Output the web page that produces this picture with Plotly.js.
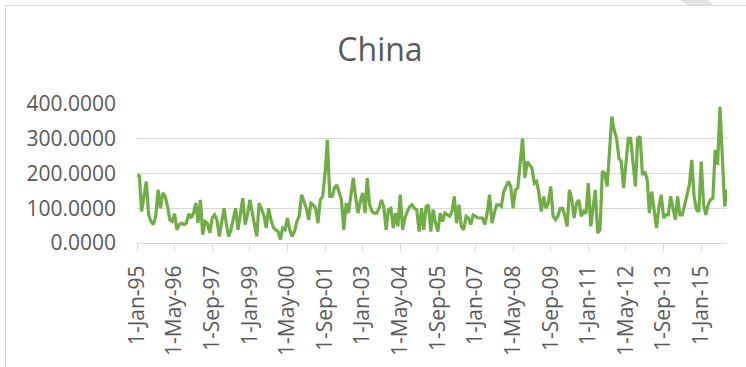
<!DOCTYPE html>
<html>
<head>
<meta charset="utf-8">
<script src="https://cdn.plot.ly/plotly-3.0.1.min.js"></script>
<style>
  html, body { margin: 0; padding: 0; background: #ffffff; }
  #chart { width: 746px; height: 367px; }
</style>
</head>
<body>
<div id="chart"></div>
<script>
// Monthly series, January 1995 onwards (one value per month)
const startYear = 1995;
const startMonth = 0; // January
const chinaValues = [
  196, 193, 91, 130, 177, 81, 62, 53, 77, 153,
  100, 144, 134, 105, 67, 62, 84, 38, 53, 57,
  53, 57, 84, 72, 86, 115, 57, 124, 24, 62,
  57, 29, 72, 81, 67, 19, 62, 100, 57, 19,
  38, 67, 100, 38, 84, 129, 53, 81, 124, 85,
  57, 19, 115, 100, 80, 43, 100, 67, 45, 38,
  33, 10, 43, 38, 72, 38, 19, 33, 62, 77,
  139, 120, 100, 67, 115, 110, 100, 57, 124, 135,
  200, 297, 134, 134, 158, 167, 144, 124, 38, 115,
  86, 140, 187, 134, 86, 120, 144, 86, 187, 110,
  91, 86, 86, 100, 124, 105, 38, 96, 100, 43,
  86, 48, 139, 38, 72, 91, 105, 110, 100, 96,
  33, 100, 38, 105, 110, 33, 96, 57, 33, 86,
  62, 86, 81, 77, 90, 134, 57, 110, 48, 38,
  77, 72, 53, 81, 77, 72, 72, 72, 53, 86,
  139, 57, 86, 110, 110, 105, 148, 163, 177, 163,
  100, 153, 158, 230, 301, 187, 234, 225, 215, 172,
  177, 144, 91, 134, 100, 115, 163, 77, 67, 77,
  100, 100, 81, 48, 153, 124, 72, 115, 124, 77,
  91, 85, 172, 48, 96, 153, 29, 38, 206, 201,
  163, 250, 364, 325, 301, 244, 234, 158, 239, 301,
  301, 234, 163, 301, 306, 196, 206, 182, 86, 148,
  91, 43, 100, 139, 72, 81, 81, 134, 100, 67,
  134, 81, 81, 110, 134, 167, 239, 134, 96, 90,
  234, 110, 81, 110, 124, 129, 268, 225, 392, 250,
  105, 153
];

// Category axis labels, one every 16 months
const tickLabels = [
  '1-Jan-95', '1-May-96', '1-Sep-97', '1-Jan-99', '1-May-00', '1-Sep-01',
  '1-Jan-03', '1-May-04', '1-Sep-05', '1-Jan-07', '1-May-08', '1-Sep-09',
  '1-Jan-11', '1-May-12', '1-Sep-13', '1-Jan-15'
];
const tickStepMonths = 16;

const yTicks = [0, 100, 200, 300, 400];

function monthDate(offset) {
  const y = startYear + Math.floor((startMonth + offset) / 12);
  const m = (startMonth + offset) % 12;
  return y + '-' + String(m + 1).padStart(2, '0') + '-01';
}

const dates = chinaValues.map((_, i) => monthDate(i));
const tickVals = tickLabels.map((_, i) => monthDate(i * tickStepMonths));

const textColor = '#595959';
const gridColor = '#d9d9d9';
const fontFamily = '"Open Sans", "Liberation Sans", sans-serif';

const W = 746, H = 367;
const margin = { l: 137, r: 19, t: 104, b: 124 };

// Helpers to place the chart-area frame in paper units from pixel positions
const pw = W - margin.l - margin.r;
const ph = H - margin.t - margin.b;
const px = v => (v - margin.l) / pw;
const py = v => (H - margin.b - v) / ph;
const pt = (x, y) => px(x) + ' ' + py(y);

const trace = {
  type: 'scatter',
  mode: 'lines',
  x: dates,
  y: chinaValues,
  line: { color: '#70ad47', width: 3.2, shape: 'linear' },
  hoverinfo: 'x+y'
};

const layout = {
  width: W,
  height: H,
  margin: margin,
  paper_bgcolor: '#ffffff',
  plot_bgcolor: '#ffffff',
  showlegend: false,
  font: { family: fontFamily, color: textColor, size: 21 },
  title: {
    text: 'China',
    font: { family: fontFamily, size: 32, color: textColor },
    xref: 'container', x: 380 / W, xanchor: 'center',
    yref: 'container', y: 1 - 50 / H, yanchor: 'middle'
  },
  xaxis: {
    type: 'date',
    range: [dates[0], dates[dates.length - 1]],
    tickmode: 'array',
    tickvals: tickVals,
    ticktext: tickLabels,
    tickangle: -90,
    ticks: 'outside',
    ticklen: 7,
    tickwidth: 1,
    tickcolor: gridColor,
    ticklabelstandoff: 6,
    showgrid: false,
    showline: true,
    linecolor: gridColor,
    linewidth: 1,
    zeroline: false,
    tickfont: { family: fontFamily, size: 21, color: textColor },
    fixedrange: true
  },
  yaxis: {
    range: [0, 400],
    tickmode: 'array',
    tickvals: yTicks,
    tickformat: '.4f',
    ticks: '',
    ticklabelstandoff: 20,
    showgrid: true,
    gridcolor: gridColor,
    gridwidth: 1.3,
    showline: false,
    zeroline: false,
    tickfont: { family: fontFamily, size: 21, color: textColor },
    fixedrange: true
  },
  shapes: [
    {
      // chart-area border (left and top edges)
      type: 'path',
      xref: 'paper', yref: 'paper',
      path: 'M ' + pt(5.5, H + 5) + ' L ' + pt(5.5, 5.5) + ' L ' + pt(W + 5, 5.5),
      line: { color: '#d9d9d9', width: 1 },
      layer: 'below'
    },
    {
      // slanted grey band at the top-right corner
      type: 'path',
      xref: 'paper', yref: 'paper',
      path: 'M ' + pt(678, -1) + ' L ' + pt(707, -1) + ' L ' + pt(713, 5) +
            ' L ' + pt(688, 5) + ' Z',
      fillcolor: '#e3e3e3',
      line: { width: 0 },
      layer: 'below'
    }
  ]
};

Plotly.newPlot('chart', [trace], layout, { displayModeBar: false, staticPlot: true });
</script>
</body>
</html>
